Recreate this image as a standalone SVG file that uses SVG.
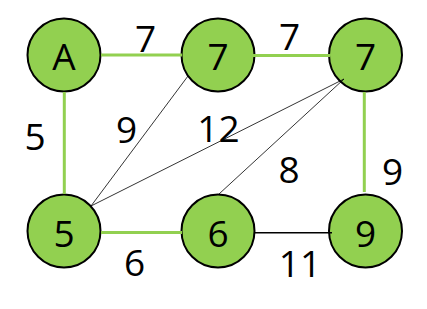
<svg xmlns="http://www.w3.org/2000/svg" width="427" height="309" viewBox="0 0 427 309">
<style>
.node circle{fill:#92d050;stroke:#000;stroke-width:2}
text{font-family:"Open Sans","Noto Sans","Liberation Sans",sans-serif;font-size:37px;fill:#000;text-anchor:middle}
.g{stroke:#92d050;stroke-width:3;fill:none}
.k{stroke:#000;stroke-width:0.8;fill:none}
.k2{stroke:#000;stroke-width:1.5;fill:none}
</style>
<rect width="427" height="309" fill="#fff"/>
<g id="nodes">
<g id="nA" class="node"><circle cx="64" cy="55" r="36.5"/><text x="64" y="70">A</text></g>
<g id="n7a" class="node"><circle cx="218" cy="55" r="36.5"/><text x="218" y="70">7</text></g>
<g id="n7b" class="node"><circle cx="365.5" cy="55" r="36.5"/><text x="365.5" y="70">7</text></g>
<g id="n5" class="node"><circle cx="64" cy="231" r="36.5"/><text x="64" y="247">5</text></g>
<g id="n6" class="node"><circle cx="218" cy="231" r="36.5"/><text x="218" y="247">6</text></g>
<g id="n9" class="node"><circle cx="365.5" cy="231" r="36.5"/><text x="365.5" y="247">9</text></g>
</g>
<g id="connectors">
<line class="g" x1="101" y1="55" x2="182" y2="55"/>
<line class="g" x1="252" y1="55.5" x2="330" y2="55.5"/>
<line class="g" x1="64.3" y1="92" x2="64.3" y2="194"/>
<line class="g" x1="101" y1="232.5" x2="182" y2="232.5"/>
<line class="g" x1="364.3" y1="92" x2="364.3" y2="192"/>
<line class="k" x1="188" y1="76" x2="91" y2="206"/>
<line class="k" x1="344" y1="79" x2="91" y2="206"/>
<line class="k" x1="344" y1="79" x2="219" y2="194"/>
<line class="k2" x1="254" y1="232.7" x2="332" y2="232.7"/>
</g>
<g id="labels">
<text x="145.5" y="52">7</text>
<text x="289.5" y="50">7</text>
<text x="35" y="150">5</text>
<text x="126.5" y="143">9</text>
<text x="218.5" y="142">12</text>
<text x="289" y="183">8</text>
<text x="392.5" y="185">9</text>
<text x="134.5" y="276">6</text>
<text x="300" y="277">11</text>
</g>
</svg>
